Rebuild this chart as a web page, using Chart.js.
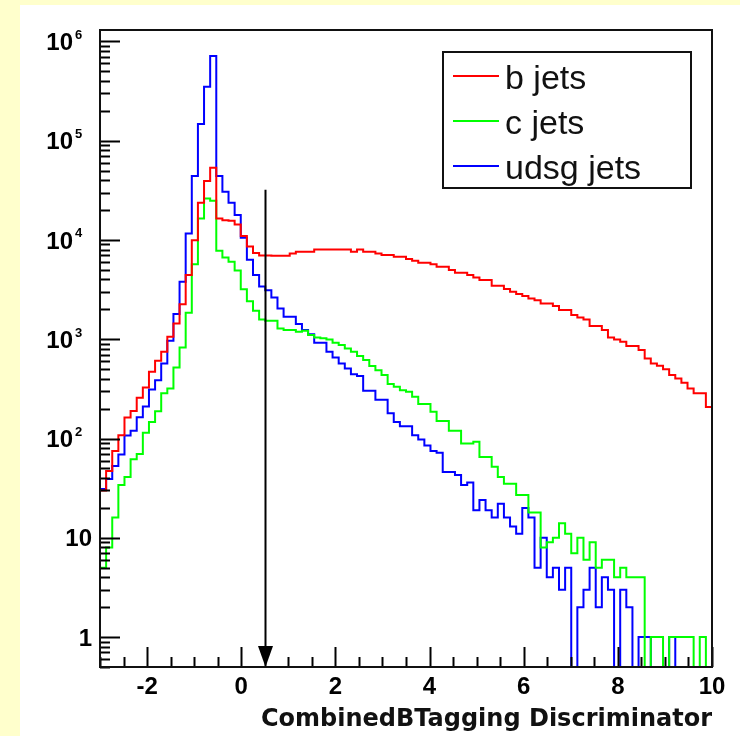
<!DOCTYPE html>
<html><head><meta charset="utf-8">
<script src="https://cdn.jsdelivr.net/npm/chart.js@4/dist/chart.umd.min.js"></script>
<style>
html,body{margin:0;padding:0;background:#ffffcc;}
#box{position:absolute;left:0;top:0;width:740px;height:736px;}
</style></head><body>
<div id="box"><canvas id="c" width="740" height="736"></canvas></div>
<script>
// ---- binning (categories) ----
const X_MIN = -3, X_MAX = 10, N_BINS = 100;
const BIN_WIDTH = (X_MAX - X_MIN) / N_BINS;
const binEdges = Array.from({length: N_BINS + 1}, (_, i) => +(X_MIN + i * BIN_WIDTH).toFixed(3));

// ---- series values (entries per bin) ----
const bJets = [30,47,75,108,163,189,257,327,470,606,
  746,1057,1442,2255,4420,9950,23650,39100,53200,16450,
  15800,15570,14330,10920,8600,7400,6950,6950,6920,6920,
  6920,7310,7590,7590,7590,8020,8020,8020,8020,8020,
  8020,7590,8020,7590,7590,7310,7030,7030,6760,6760,
  6410,6170,5890,5900,5700,5360,5360,4965,4665,4665,
  4425,4190,3940,3940,3450,3450,3200,3000,2845,2716,
  2575,2475,2290,2290,2155,1963,1963,1750,1657,1582,
  1355,1355,1236,1042,995,942,852,852,777,640,
  570,540,497,435,403,364,319,285,285,208];
const cJets = [5,8,16,34,41,62,70,114,147,188,
  285,319,520,827,1845,5700,16450,26200,24800,7770,
  6660,6020,4930,3180,2410,1932,1582,1534,1534,1285,
  1236,1236,1188,1216,1100,1042,1020,995,920,872,
  808,746,676,616,536,488,435,353,332,307,
  295,263,222,222,186,150,150,120,120,89,
  89,93,65,65,52,41,35,35,27,27,
  18,18,8,9,10,14,11,7,10,6,
  9,5,6,6,4,5,4,4,4,0,
  1,1,0,1,1,1,1,0,1,0];
const udsgJets = [31,39,53,69,107,120,164,210,312,387,
  570,964,1790,3785,11620,43900,146600,348000,710000,43900,
  30500,23650,17780,10500,6300,4425,3400,3120,2637,2043,
  1682,1682,1420,1236,1125,920,920,746,656,570,
  508,445,425,302,302,246,246,180,147,133,
  133,108,98,85,75,72,46,46,43,34,
  36,19,24,19,16,22,16,13,11,20,
  16,5,10,4,5,3,5,0,2,3,
  5,2,4,3,0,3,2,0,1,1,
  0,0,0,1,0,0,0,0,0,0];

const seriesLabels = ['b jets', 'c jets', 'udsg jets'];
const seriesColors = ['#ff0000', '#00ff00', '#0000ff'];

// ---- axes / ticks ----
const Y_MIN = 0.5, Y_MAX = 1.3e6;
const xTickValues = [-2, 0, 2, 4, 6, 8, 10];
const xMinorStep = 0.5;
const yTickValues = [1, 10, 1e2, 1e3, 1e4, 1e5, 1e6];
const yTickLabels = ['1', '10', '10^2', '10^3', '10^4', '10^5', '10^6'];
const xTitle = 'CombinedBTagging Discriminator';

// ---- cut arrow ----
const arrowX = 0.5, arrowTopValue = 32000;

function toPoints(vals) {
  const pts = vals.map((v, i) => ({x: binEdges[i], y: v > 0 ? v : Y_MIN}));
  pts.push({x: binEdges[N_BINS], y: pts[pts.length - 1].y});
  return pts;
}

const overlay = {
  id: 'overlay',
  beforeDraw(chart) {
    const ctx = chart.ctx;
    ctx.save();
    ctx.fillStyle = '#ffffcc';
    ctx.fillRect(0, 0, chart.width, chart.height);
    ctx.fillStyle = '#ffffff';
    ctx.fillRect(20, 5, chart.width - 20, chart.height - 5);
    ctx.restore();
  },
  afterDraw(chart) {
    const {ctx, chartArea: a, scales: {x, y}} = chart;
    ctx.save();
    const seg = (x1, y1, x2, y2) => { ctx.beginPath(); ctx.moveTo(x1, y1); ctx.lineTo(x2, y2); ctx.stroke(); };
    ctx.strokeStyle = '#000';
    ctx.lineWidth = 2;
    // y ticks (inside frame)
    for (let e = -1; e <= 6; e++) {
      for (let m = 1; m <= 9; m++) {
        const v = m * Math.pow(10, e);
        if (v < Y_MIN || v > Y_MAX) continue;
        const py = Math.round(y.getPixelForValue(v)) + 0.5;
        seg(a.left, py, a.left + (m === 1 ? 20 : 10), py);
      }
    }
    // x ticks (inside frame)
    for (let v = X_MIN; v <= X_MAX + 1e-9; v += xMinorStep) {
      const major = xTickValues.some(t => Math.abs(t - v) < 1e-9);
      const px = Math.round(x.getPixelForValue(v)) + 0.5;
      seg(px, a.bottom, px, a.bottom - (major ? 20 : 10));
    }
    // frame
    ctx.lineWidth = 2;
    ctx.strokeStyle = '#111';
    ctx.strokeRect(a.left, a.top, a.right - a.left, a.bottom - a.top);
    // y labels
    ctx.fillStyle = '#000';
    ctx.textBaseline = 'alphabetic';
    yTickValues.forEach((v, i) => {
      const py = y.getPixelForValue(v);
      const lab = yTickLabels[i];
      const parts = lab.split('^');
      ctx.font = 'bold 24px "Liberation Sans"';
      if (parts.length === 2) {
        ctx.textAlign = 'right';
        ctx.fillText(parts[0], 73, py + 8.6);
        ctx.font = 'bold 13px "Liberation Sans"';
        ctx.textAlign = 'left';
        ctx.fillText(parts[1], 75, py - 2.5);
      } else {
        ctx.textAlign = 'right';
        ctx.fillText(lab, 92, py + 8.6);
      }
    });
    // arrow
    const ax = Math.round(x.getPixelForValue(arrowX)) + 0.5;
    const ay = y.getPixelForValue(arrowTopValue);
    ctx.strokeStyle = '#000';
    ctx.lineWidth = 2;
    seg(ax, ay, ax, a.bottom - 18);
    ctx.beginPath();
    ctx.moveTo(ax - 7.5, a.bottom - 21);
    ctx.lineTo(ax + 7.5, a.bottom - 21);
    ctx.lineTo(ax, a.bottom);
    ctx.closePath();
    ctx.fill();
    // legend
    ctx.fillStyle = '#fff';
    ctx.fillRect(443, 52, 248, 136);
    ctx.strokeStyle = '#111';
    ctx.lineWidth = 2;
    ctx.strokeRect(443, 52, 248, 136);
    ctx.font = '34px "Liberation Sans"';
    ctx.textAlign = 'left';
    chart.data.datasets.forEach((ds, i) => {
      const ly = 76 + i * 45;
      ctx.strokeStyle = ds.borderColor;
      ctx.lineWidth = 2;
      seg(453, ly, 499, ly);
      ctx.fillStyle = '#111';
      ctx.fillText(ds.label, 505, ly + 13);
    });
    ctx.restore();
  }
};

const seriesValues = [bJets, cJets, udsgJets];
new Chart(document.getElementById('c'), {
  type: 'line',
  data: {
    datasets: seriesValues.map((vals, i) => ({
      label: seriesLabels[i],
      data: toPoints(vals),
      borderColor: seriesColors[i],
      borderWidth: 2,
      pointRadius: 0,
      stepped: 'before',
      fill: false,
      tension: 0
    }))
  },
  options: {
    responsive: false,
    animation: false,
    devicePixelRatio: 1,
    layout: {padding: {left: 0, right: 28, top: 30, bottom: 0}},
    plugins: {legend: {display: false}, tooltip: {enabled: false}},
    scales: {
      x: {
        type: 'linear', min: X_MIN, max: X_MAX,
        afterBuildTicks: s => { s.ticks = xTickValues.map(v => ({value: v})); },
        ticks: {font: {family: 'Liberation Sans', size: 24, weight: 'bold'}, color: '#000',
                padding: 6, maxRotation: 0, autoSkip: false, callback: v => String(v)},
        grid: {display: false, drawTicks: false},
        border: {display: false},
        title: {display: true, text: xTitle, align: 'end', color: '#111',
                font: {family: 'DejaVu Sans', size: 24, weight: 'bold'}, padding: {top: 0, bottom: 2}},
        afterFit: s => { s.height = 69; }
      },
      y: {
        type: 'logarithmic', min: Y_MIN, max: Y_MAX,
        ticks: {display: false},
        grid: {display: false, drawTicks: false},
        border: {display: false},
        afterFit: s => { s.width = 100; }
      }
    }
  },
  plugins: [overlay]
});
</script>
</body></html>
